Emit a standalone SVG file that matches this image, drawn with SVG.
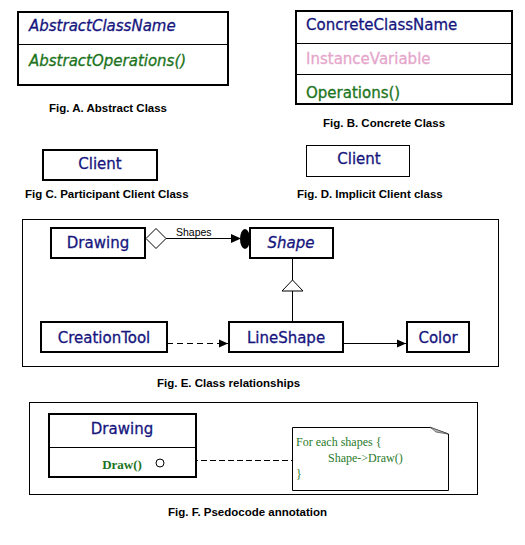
<svg xmlns="http://www.w3.org/2000/svg" width="525" height="545" viewBox="0 0 525 545">
<style>
.box{fill:#fff;stroke:#000;stroke-width:2}
.thin{fill:none;stroke:#000;stroke-width:1}
.t{font-family:"DejaVu Sans",Verdana,sans-serif;font-size:15px;fill:#16167e;stroke:#16167e;stroke-width:0.3}
.it{font-style:italic}
.grn{fill:#1c741c;stroke:#1c741c}
.pink{fill:#e6a6cc;stroke:#e6a6cc}
.cap{font-family:"Liberation Sans",Arial,sans-serif;font-weight:bold;font-size:11.5px;fill:#000}
.lbl{font-family:"Liberation Sans",Arial,sans-serif;font-size:10.5px;fill:#000}
.note{font-family:"Liberation Serif","Times New Roman",serif;font-size:12px;fill:#2a7a2a}
</style>
<defs>
<marker id="arr" markerWidth="10" markerHeight="10" refX="9" refY="5" orient="auto" markerUnits="userSpaceOnUse">
<path d="M0,1 L9,5 L0,9 Z" fill="#000"/>
</marker>
</defs>
<rect width="525" height="545" fill="#fff"/>

<g id="figA">
<rect class="box" x="18" y="12" width="210" height="73"/>
<line class="thin" x1="18" y1="44.5" x2="228" y2="44.5"/>
<text class="t it" x="29" y="31">AbstractClassName</text>
<text class="t it grn" x="29" y="66">AbstractOperations()</text>
<text class="cap" x="49" y="112">Fig. A. Abstract Class</text>
</g>

<g id="figB">
<rect class="box" x="296" y="11" width="216" height="93"/>
<line class="thin" x1="296" y1="43.5" x2="512" y2="43.5"/>
<line class="thin" x1="296" y1="74.5" x2="512" y2="74.5"/>
<text class="t" x="306" y="30">ConcreteClassName</text>
<text class="t pink" x="306" y="64">InstanceVariable</text>
<text class="t grn" x="306" y="98">Operations()</text>
<text class="cap" x="323" y="127">Fig. B. Concrete Class</text>
</g>

<g id="figC">
<rect class="box" x="43" y="150" width="114" height="30"/>
<text class="t" x="100" y="169" text-anchor="middle">Client</text>
<text class="cap" x="25" y="198">Fig C. Participant Client Class</text>
</g>

<g id="figD">
<rect class="thin" x="306.5" y="145.5" width="103" height="31"/>
<text class="t" x="359" y="164" text-anchor="middle">Client</text>
<text class="cap" x="297" y="198">Fig. D. Implicit Client class</text>
</g>

<g id="figE">
<rect class="thin" x="22.5" y="219.5" width="476" height="147"/>
<text class="cap" x="157" y="387">Fig. E. Class relationships</text>
</g>

<g id="drawingE">
<rect class="box" x="51" y="228" width="94" height="30"/>
<text class="t" x="98" y="248" text-anchor="middle">Drawing</text>
</g>
<g id="shape">
<rect class="box" x="250" y="228" width="83" height="30"/>
<text class="t it" x="291" y="248" text-anchor="middle">Shape</text>
</g>
<g id="creationTool">
<rect class="box" x="41" y="322" width="126" height="30"/>
<text class="t" x="104" y="343" text-anchor="middle">CreationTool</text>
</g>
<g id="lineShape">
<rect class="box" x="229" y="322" width="114" height="30"/>
<text class="t" x="286" y="343" text-anchor="middle">LineShape</text>
</g>
<g id="color">
<rect class="box" x="407" y="322" width="62" height="30"/>
<text class="t" x="438" y="343" text-anchor="middle">Color</text>
</g>

<g id="connectors">
<polygon points="146,238.5 156,228.5 166,238.5 156,248.5" fill="#fff" stroke="#000" stroke-width="1"/>
<line class="thin" x1="166" y1="238.5" x2="231" y2="238.5"/>
<path d="M231,234 L241,238.5 L231,243 Z" fill="#000"/>
<ellipse cx="245" cy="239" rx="5" ry="10" fill="#000"/>
<text class="lbl" x="176" y="236">Shapes</text>
<line class="thin" x1="292.5" y1="258" x2="292.5" y2="280"/>
<polygon points="292.5,280 303,291 282,291" fill="#fff" stroke="#000" stroke-width="1"/>
<line class="thin" x1="292.5" y1="291" x2="292.5" y2="322"/>
<line class="thin" x1="167" y1="343.5" x2="228" y2="343.5" stroke-dasharray="6,4" marker-end="url(#arr)"/>
<line class="thin" x1="343" y1="343.5" x2="406" y2="343.5" marker-end="url(#arr)"/>
<line class="thin" x1="165" y1="460.5" x2="292" y2="460.5" stroke-dasharray="6,3"/>
</g>

<g id="figF">
<rect class="thin" x="29.5" y="402.5" width="448" height="92"/>
<text class="cap" x="168" y="516">Fig. F. Psedocode annotation</text>
</g>
<g id="drawingF">
<rect class="box" x="49" y="414" width="147" height="63"/>
<line class="thin" x1="49" y1="447.5" x2="196" y2="447.5"/>
<text class="t" x="122" y="434" text-anchor="middle">Drawing</text>
<text x="122" y="469" text-anchor="middle" font-family="'Liberation Serif','Times New Roman',serif" font-weight="bold" font-size="13px" fill="#1c741c">Draw()</text>
<circle cx="160" cy="463" r="4" fill="#fff" stroke="#000" stroke-width="1"/>
</g>
<g id="note">
<path d="M292.5,427.5 L430,427.5 L448.5,434 L448.5,490.5 L292.5,490.5 Z" fill="#fff" stroke="#000" stroke-width="1"/>
<polygon points="430,427 448,434 436,432" fill="#bbb" stroke="#555" stroke-width="0.8"/>
<text class="note" x="296" y="446">For each shapes {</text>
<text class="note" x="328" y="462">Shape-&gt;Draw()</text>
<text class="note" x="296" y="478">}</text>
</g>
</svg>
